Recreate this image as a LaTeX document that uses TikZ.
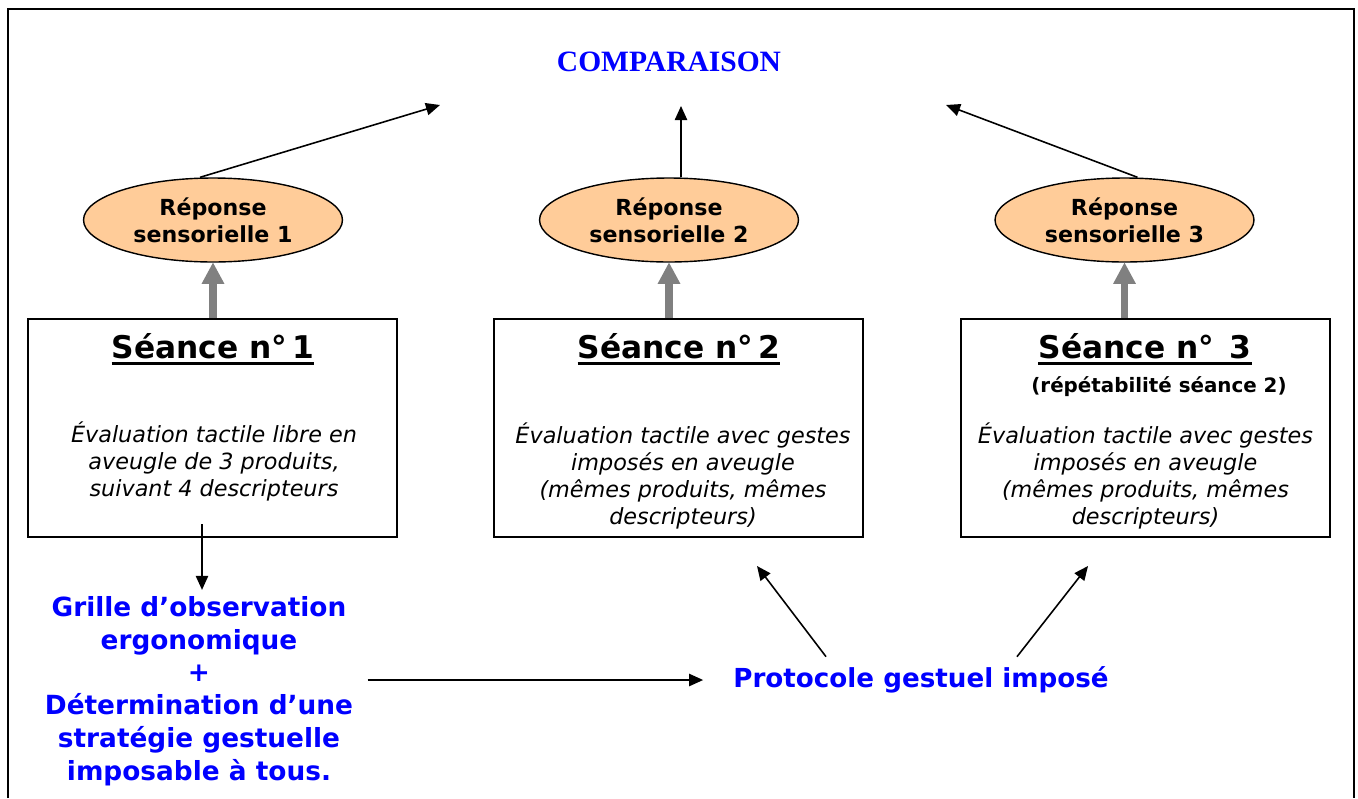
\documentclass[tikz,border=0pt]{standalone}
\usepackage{fontspec}
\setmainfont{DejaVu Sans}
\newfontfamily\titrefont{Liberation Serif}
\usetikzlibrary{arrows.meta,positioning,calc,shapes.geometric}
\definecolor{peche}{HTML}{FFCC99}
\definecolor{bleu}{RGB}{0,0,255}
\newcommand{\titul}[1]{\setbox0\hbox{#1}\rlap{\copy0}\rule[-4pt]{\wd0}{1.6pt}}

\begin{document}
\begin{tikzpicture}[x=0.02cm, y=-0.02cm,
    rep/.style={ellipse, draw, fill=peche, line width=0.8pt, minimum width=5.18cm, minimum height=1.68cm,
        inner sep=0pt, align=center, font=\fontsize{12.6}{15.3}\selectfont\bfseries},
    seance/.style={draw, line width=1pt, minimum width=7.38cm, minimum height=4.36cm},
    titre/.style={anchor=base, font=\fontsize{17.8}{21}\selectfont\bfseries},
    desc/.style={align=center, font=\fontsize{12.7}{15.3}\selectfont\itshape},
    bleutxt/.style={text=bleu, align=center},
    fleche/.style={-{Triangle[width=7pt,length=8pt]}, line width=0.9pt},
    grosse/.style={-{Triangle[width=13pt,length=12pt,line width=0pt]}, line width=4.5pt, draw=gray, fill=gray}]
    \useasboundingbox (0,0) rectangle (1358,798);

    % Cadre
    \draw[line width=1.2pt] (8,798) -- (8,9) -- (1354,9) -- (1354,798);

    % Titre
    \node[text=bleu, font=\titrefont\fontsize{16.8}{20}\selectfont\bfseries] (cmp) at (669,62) {COMPARAISON};
    \coordinate (c1) at (440,105);
    \coordinate (c2) at (681,106);
    \coordinate (c3) at (946,105);

    % Reponses sensorielles
    \node[rep] (rep1) at (213,220) {Réponse\\sensorielle 1};
    \node[rep] (rep2) at (669,220) {Réponse\\sensorielle 2};
    \node[rep] (rep3) at (1124.5,220) {Réponse\\sensorielle 3};

    % Seances
    \node[seance] (s1) at (212.5,428) {};
    \node[seance] (s2) at (678.5,428) {};
    \node[seance] (s3) at (1145.5,428) {};

    \node[titre] (t1) at (213,358) {\titul{Séance n°\,1}};
    \node[titre] (t2) at (679,358) {\titul{Séance n°\,2}};
    \node[titre] (t3) at (1145,358) {\titul{Séance n°\enspace3}};
    \node[anchor=base, font=\fontsize{11.3}{14}\selectfont\bfseries] (sub3) at (1159,392) {(répétabilité séance 2)};

    \node[desc] (d1) at (214,461.5) {Évaluation tactile libre en\\aveugle de 3 produits,\\suivant 4 descripteurs};
    \node[desc] (d2) at (683,476) {Évaluation tactile avec gestes\\imposés en aveugle\\(mêmes produits, mêmes\\descripteurs)};
    \node[desc] (d3) at (1145.5,476) {Évaluation tactile avec gestes\\imposés en aveugle\\(mêmes produits, mêmes\\descripteurs)};

    % Textes du bas
    \node[bleutxt, inner xsep=8pt, font=\fontsize{15}{18.7}\selectfont\bfseries] (grille) at (199,691)
        {Grille d’observation\\ergonomique\\+\\Détermination d’une\\stratégie gestuelle\\imposable à tous.};
    \node[bleutxt, inner xsep=17pt, inner ysep=5.5pt, font=\fontsize{14.9}{18}\selectfont\bfseries] (proto) at (921,680)
        {Protocole gestuel imposé};
    \coordinate (g0) at (202,524);
    \coordinate (q2) at (757,566);
    \coordinate (q3) at (1088,566);

    % Fleches
    \draw[fleche] ($(rep1.north)+(-13,0)$) -- (c1);
    \draw[fleche] (rep2.north -| c2) -- (c2);
    \draw[fleche] ($(rep3.north)+(13,0)$) -- (c3);
    \foreach \i in {1,2,3}
        \draw[grosse] (s\i.north -| rep\i) -- (rep\i.south);
    \draw[fleche] (g0) -- (g0 |- grille.north);
    \draw[fleche] (grille.east |- proto) -- (proto.west);
    \draw[fleche] ([xshift=-1.9cm]proto.north) -- (q2);
    \draw[fleche] ([xshift=1.92cm]proto.north) -- (q3);
\end{tikzpicture}
\end{document}
